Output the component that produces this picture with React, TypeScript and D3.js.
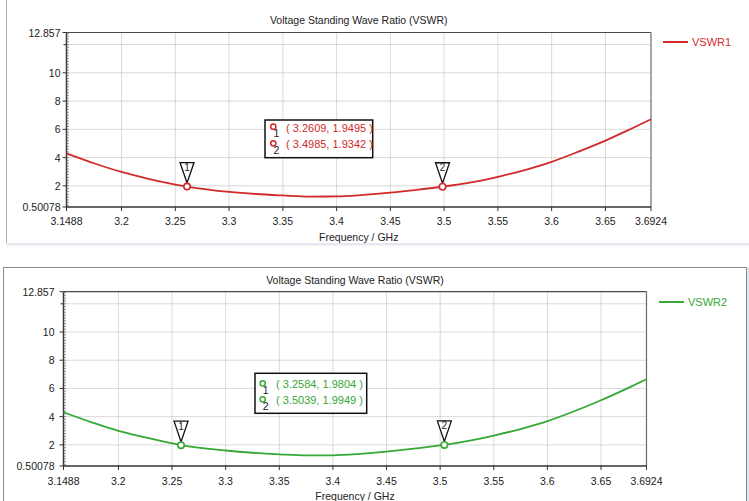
import React from "react";
import * as d3 from "d3";

// Frequency sweep (GHz) and VSWR samples for the two ports
const freq1 = [3.1488, 3.175, 3.2, 3.225, 3.2609, 3.3, 3.325, 3.35, 3.375, 3.4, 3.425, 3.45, 3.475, 3.4985, 3.525, 3.55, 3.575, 3.6, 3.625, 3.65, 3.675, 3.6924];
const vswr1 = [4.30, 3.58, 2.98, 2.50, 1.9495, 1.57, 1.42, 1.32, 1.24, 1.25, 1.36, 1.52, 1.72, 1.9342, 2.24, 2.64, 3.12, 3.70, 4.42, 5.20, 6.08, 6.71];

const freq2 = [3.1488, 3.175, 3.2, 3.225, 3.2584, 3.3, 3.325, 3.35, 3.375, 3.4, 3.425, 3.45, 3.475, 3.5039, 3.525, 3.55, 3.575, 3.6, 3.625, 3.65, 3.675, 3.6924];
const vswr2 = [4.31, 3.60, 2.99, 2.53, 1.9804, 1.60, 1.44, 1.33, 1.25, 1.26, 1.36, 1.52, 1.73, 1.9949, 2.26, 2.66, 3.12, 3.68, 4.38, 5.16, 6.02, 6.65];

// Marker readouts
const markerFreq1 = [3.2609, 3.4985];
const markerVal1 = [1.9495, 1.9342];
const markerFreq2 = [3.2584, 3.5039];
const markerVal2 = [1.9804, 1.9949];

// Axis ticks
const xDomain = [3.1488, 3.6924];
const yDomain = [0.50078, 12.857];
const xTickValues = [3.1488, 3.2, 3.25, 3.3, 3.35, 3.4, 3.45, 3.5, 3.55, 3.6, 3.65, 3.6924];
const xTickLabels = ["3.1488", "3.2", "3.25", "3.3", "3.35", "3.4", "3.45", "3.5", "3.55", "3.6", "3.65", "3.6924"];
const yTickValues = [0.50078, 2, 4, 6, 8, 10, 12.857];
const yTickLabels = ["0.50078", "2", "4", "6", "8", "10", "12.857"];
const xGridValues = [3.2, 3.25, 3.3, 3.35, 3.4, 3.45, 3.5, 3.55, 3.6, 3.65];
const yGridValues = [2, 4, 6, 8, 10, 12];

const FONT = "'Liberation Sans', Arial, sans-serif";

type Layout = {
  x0: number; x1: number; y0: number; y1: number;
  titleY: number; tickY: number; axisLabelY: number; labelGap: number;
  legX1: number; legX2: number; legY: number; legTX: number;
  boxX: number; boxY: number; boxW: number; boxH: number;
  iconDX: number; iconDY: number[]; textDY: number[];
};

type ChartProps = {
  layout: Layout;
  freq: number[];
  vals: number[];
  mFreq: number[];
  mVal: number[];
  color: string;
  name: string;
};

function VswrChart({ layout: L, freq, vals, mFreq, mVal, color, name }: ChartProps) {
  const x = d3.scaleLinear().domain(xDomain).range([L.x0, L.x1]);
  const y = d3.scaleLinear().domain(yDomain).range([L.y1, L.y0]);
  const pts = freq.map((f, i) => [f, vals[i]] as [number, number]);
  const line = d3
    .line<[number, number]>()
    .x((d) => x(d[0]))
    .y((d) => y(d[1]))
    .curve(d3.curveMonotoneX);
  const minorY = d3.range(0.6, 12.85, 0.2);
  const cx = (L.x0 + L.x1) / 2;

  return (
    <g>
      {/* grid */}
      {xGridValues.map((v) => (
        <line key={"gx" + v} x1={x(v)} x2={x(v)} y1={L.y0} y2={L.y1} stroke="#b4b4b4" strokeWidth={1} strokeDasharray="1,1" />
      ))}
      {yGridValues.map((v) => (
        <line key={"gy" + v} x1={L.x0} x2={L.x1} y1={y(v)} y2={y(v)} stroke="#b4b4b4" strokeWidth={1} strokeDasharray="1,1" />
      ))}
      {/* frame */}
      <line x1={L.x0} x2={L.x1} y1={L.y0} y2={L.y0} stroke="#4a4a4a" strokeWidth={1.2} />
      <line x1={L.x1} x2={L.x1} y1={L.y0} y2={L.y1} stroke="#6a6a6a" strokeWidth={1.2} />
      <line x1={L.x0} x2={L.x1} y1={L.y1} y2={L.y1} stroke="#333" strokeWidth={1.5} />
      <line x1={L.x0} x2={L.x0} y1={L.y0} y2={L.y1} stroke="#333" strokeWidth={1.5} />
      {/* minor y ticks */}
      {minorY.map((v, i) => (
        <line key={"my" + i} x1={L.x0} x2={L.x0 + 2.5} y1={y(v)} y2={y(v)} stroke="#777" strokeWidth={0.8} />
      ))}
      {/* y ticks */}
      {yTickValues.map((v, i) => (
        <g key={"yt" + i}>
          <line x1={L.x0 - 4} x2={L.x0} y1={y(v)} y2={y(v)} stroke="#333" strokeWidth={1} />
          <text x={L.x0 - L.labelGap} y={y(v) + 4} textAnchor="end" fontFamily={FONT} fontSize={10.5} fill="#222">
            {yTickLabels[i]}
          </text>
        </g>
      ))}
      <line x1={L.x0 - 3} x2={L.x0} y1={y(12)} y2={y(12)} stroke="#333" strokeWidth={1} />
      {/* x ticks */}
      {xTickValues.map((v, i) => (
        <g key={"xt" + i}>
          <line x1={x(v)} x2={x(v)} y1={L.y1} y2={L.y1 + 4} stroke="#333" strokeWidth={1} />
          <text x={x(v)} y={L.tickY} textAnchor="middle" fontFamily={FONT} fontSize={10.5} fill="#222">
            {xTickLabels[i]}
          </text>
        </g>
      ))}
      {/* titles */}
      <text x={cx} y={L.titleY} textAnchor="middle" fontFamily={FONT} fontSize={10.5} fill="#222">
        Voltage Standing Wave Ratio (VSWR)
      </text>
      <text x={cx} y={L.axisLabelY} textAnchor="middle" fontFamily={FONT} fontSize={10.5} fill="#222">
        Frequency / GHz
      </text>
      {/* curve */}
      <path d={line(pts) || ""} fill="none" stroke={color} strokeWidth={1.8} />
      {/* markers */}
      {mFreq.map((f, i) => {
        const px = x(f);
        const py = y(mVal[i]);
        return (
          <g key={"m" + i}>
            <path
              d={`M${px - 7},${py - 24} L${px + 7},${py - 24} L${px},${py - 3.5} Z`}
              fill="#fff"
              stroke="#111"
              strokeWidth={1.3}
            />
            <text x={px} y={py - 15.5} textAnchor="middle" fontFamily={FONT} fontSize={10} fill="#222">
              {i + 1}
            </text>
            <circle cx={px} cy={py} r={3.2} fill="#fff" stroke={color} strokeWidth={1.6} />
          </g>
        );
      })}
      {/* marker readout box */}
      <rect x={L.boxX} y={L.boxY} width={L.boxW} height={L.boxH} fill="#fff" stroke="#111" strokeWidth={1.5} />
      {mFreq.map((f, i) => (
        <g key={"b" + i}>
          <circle cx={L.boxX + L.iconDX} cy={L.boxY + L.iconDY[i]} r={2.6} fill="#fff" stroke={color} strokeWidth={1.5} />
          <text x={L.boxX + L.iconDX + 3} y={L.boxY + L.iconDY[i] + 10.5} textAnchor="middle" fontFamily={FONT} fontSize={10.5} fill="#222">
            {i + 1}
          </text>
          <text x={L.boxX + 21} y={L.boxY + L.textDY[i]} fontFamily={FONT} fontSize={11} fill={color}>
            {`( ${f.toFixed(4)}, ${mVal[i].toFixed(4)} )`}
          </text>
        </g>
      ))}
      {/* legend */}
      <line x1={L.legX1} x2={L.legX2} y1={L.legY} y2={L.legY} stroke={color} strokeWidth={2} />
      <text x={L.legTX} y={L.legY + 4} fontFamily={FONT} fontSize={11} fill={color}>
        {name}
      </text>
    </g>
  );
}

const topLayout: Layout = {
  x0: 66.5, x1: 651, y0: 32.5, y1: 207,
  titleY: 24, tickY: 225, axisLabelY: 241, labelGap: 6,
  legX1: 663, legX2: 688, legY: 42, legTX: 692,
  boxX: 265, boxY: 120, boxW: 107.7, boxH: 37.7,
  iconDX: 8.3, iconDY: [6.7, 23.3], textDY: [11.5, 28],
};

const bottomLayout: Layout = {
  x0: 63.5, x1: 646.5, y0: 291.7, y1: 466,
  titleY: 283.5, tickY: 484.5, axisLabelY: 499.5, labelGap: 9,
  legX1: 659, legX2: 684, legY: 302, legTX: 688,
  boxX: 255, boxY: 373.3, boxW: 111.7, boxH: 40,
  iconDX: 7.7, iconDY: [10, 26], textDY: [14.5, 30.5],
};

export default function App() {
  return (
    <div style={{ position: "absolute", left: 0, top: 0 }}>
      <svg width={749} height={501} style={{ display: "block", background: "#fff" }}>
        {/* window panels */}
        <line x1={6.5} x2={6.5} y1={0} y2={243} stroke="#b0b0b0" strokeWidth={1} />
        <rect x={6} y={243} width={743} height={2.5} fill="#e4e8ef" />
        <rect x={3.5} y={267.5} width={743} height={240} fill="#fff" stroke="#8a8a8a" strokeWidth={1} />
        <rect x={747} y={268} width={2} height={233} fill="#dce6ee" />

        <VswrChart layout={topLayout} freq={freq1} vals={vswr1} mFreq={markerFreq1} mVal={markerVal1} color="#d22a2a" name="VSWR1" />
        <VswrChart layout={bottomLayout} freq={freq2} vals={vswr2} mFreq={markerFreq2} mVal={markerVal2} color="#35a835" name="VSWR2" />
      </svg>
    </div>
  );
}
